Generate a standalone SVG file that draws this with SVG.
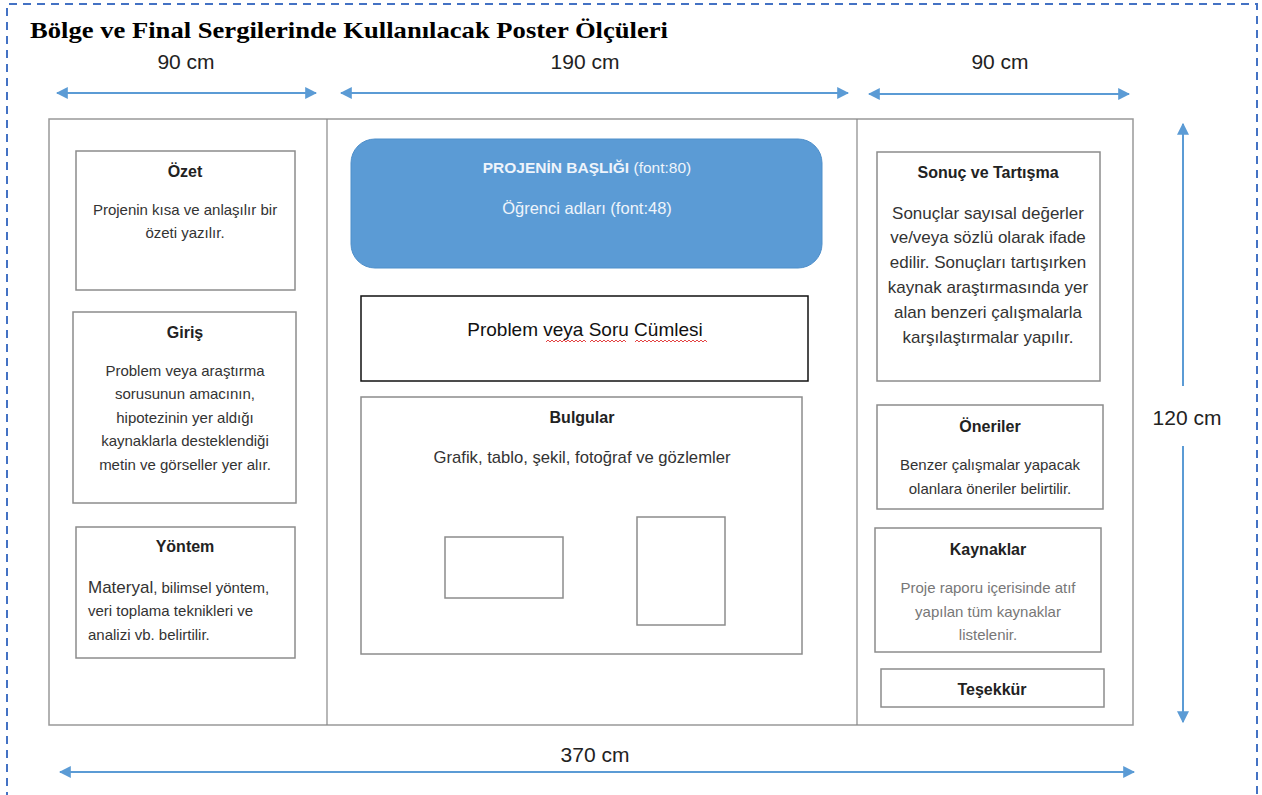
<svg xmlns="http://www.w3.org/2000/svg" width="1262" height="795" viewBox="0 0 1262 795">
<style>
.box{fill:#fff;stroke:#8c8c8c;stroke-width:1.5}
.ttl{font-family:"Liberation Sans",Arial,sans-serif;font-weight:bold;font-size:16px;fill:#222;text-anchor:middle}
.txt{font-family:"Liberation Sans",Arial,sans-serif;font-size:15px;fill:#333;text-anchor:middle}
.lft{text-anchor:start}
.dim{font-family:"Liberation Sans",Arial,sans-serif;font-size:21px;fill:#222;text-anchor:middle}
.arr{stroke:#5b9bd5;stroke-width:2;fill:none}
</style>
<defs>
<marker id="ah" viewBox="0 0 10 10" refX="9" refY="5" markerWidth="6" markerHeight="6" markerUnits="strokeWidth" orient="auto-start-reverse">
<path d="M0,0 L10,5 L0,10 z" fill="#5b9bd5"/>
</marker>
</defs>
<rect width="1262" height="795" fill="#fff"/>
<path d="M7,800 V4 H1257 V800" fill="none" stroke="#4472c4" stroke-width="2" stroke-dasharray="8,6"/>
<text x="30" y="38" font-family="Liberation Serif,'Times New Roman',serif" font-weight="bold" font-size="23" fill="#000" textLength="638" lengthAdjust="spacingAndGlyphs">Bölge ve Final Sergilerinde Kullanılacak Poster Ölçüleri</text>

<g id="poster">
<rect x="49" y="119" width="1084" height="606" fill="#fff" stroke="#999" stroke-width="1.5"/>
<line x1="327" y1="119" x2="327" y2="725" stroke="#888" stroke-width="1.2"/>
<line x1="857" y1="119" x2="857" y2="725" stroke="#888" stroke-width="1.2"/>
</g>

<g id="ozet">
<rect class="box" x="76" y="151" width="219" height="139"/>
<text class="ttl" x="185" y="177">Özet</text>
<text class="txt" x="185" y="215">Projenin kısa ve anlaşılır bir</text>
<text class="txt" x="185" y="238">özeti yazılır.</text>
</g>

<g id="giris">
<rect class="box" x="73" y="312" width="223" height="191"/>
<text class="ttl" x="185" y="338">Giriş</text>
<text class="txt" x="185" y="376">Problem veya araştırma</text>
<text class="txt" x="185" y="399">sorusunun amacının,</text>
<text class="txt" x="185" y="423">hipotezinin yer aldığı</text>
<text class="txt" x="185" y="446">kaynaklarla desteklendiği</text>
<text class="txt" x="185" y="470">metin ve görseller yer alır.</text>
</g>

<g id="yontem">
<rect class="box" x="76" y="527" width="219" height="131"/>
<text class="ttl" x="185" y="552">Yöntem</text>
<text class="txt lft" x="88" y="593"><tspan font-size="17">Materyal</tspan>, bilimsel yöntem,</text>
<text class="txt lft" x="88" y="616">veri toplama teknikleri ve</text>
<text class="txt lft" x="88" y="640">analizi vb. belirtilir.</text>
</g>

<g id="baslik">
<rect x="351" y="139" width="471" height="129" rx="24" fill="#5b9bd5" stroke="#4f8fca" stroke-width="1"/>
<text x="587" y="173" font-family="Liberation Sans,Arial,sans-serif" font-size="15.5" fill="#eef4fb" text-anchor="middle"><tspan font-weight="bold">PROJENİN BAŞLIĞI</tspan> (font:80)</text>
<text x="587" y="214" font-family="Liberation Sans,Arial,sans-serif" font-size="16.5" fill="#eef4fb" text-anchor="middle">Öğrenci adları (font:48)</text>
</g>

<g id="problem">
<rect x="361" y="296" width="447" height="85" fill="#fff" stroke="#111" stroke-width="1.5"/>
<text x="585" y="336" font-family="Liberation Sans,Arial,sans-serif" font-size="19" fill="#111" text-anchor="middle">Problem veya Soru Cümlesi</text>
<path d="M546,342 l2,-2 l2,2 l2,-2 l2,2 l2,-2 l2,2 l2,-2 l2,2 l2,-2 l2,2 l2,-2 l2,2 l2,-2 l2,2 l2,-2 l2,2 l2,-2 l2,2 l2,-2 l2,2 M590,342 l2,-2 l2,2 l2,-2 l2,2 l2,-2 l2,2 l2,-2 l2,2 l2,-2 l2,2 l2,-2 l2,2 l2,-2 l2,2 l2,-2 l2,2 l2,-2 l2,2 M635,342 l2,-2 l2,2 l2,-2 l2,2 l2,-2 l2,2 l2,-2 l2,2 l2,-2 l2,2 l2,-2 l2,2 l2,-2 l2,2 l2,-2 l2,2 l2,-2 l2,2 l2,-2 l2,2 l2,-2 l2,2 l2,-2 l2,2 l2,-2 l2,2 l2,-2 l2,2 l2,-2 l2,2 l2,-2 l2,2 l2,-2 l2,2 l2,-2 l2,2" fill="none" stroke="#e03030" stroke-width="0.9"/>
</g>

<g id="bulgular">
<rect class="box" x="361" y="397" width="441" height="257"/>
<text class="ttl" x="582" y="423">Bulgular</text>
<text class="txt" x="582" y="463" font-size="17" style="font-size:17px" textLength="297" lengthAdjust="spacingAndGlyphs">Grafik, tablo, şekil, fotoğraf ve gözlemler</text>
<rect class="box" x="445" y="537" width="118" height="61"/>
<rect class="box" x="637" y="517" width="88" height="108"/>
</g>

<g id="sonuc">
<rect class="box" x="877" y="152" width="223" height="229"/>
<text class="ttl" x="988" y="178">Sonuç ve Tartışma</text>
<g style="font-size:17px">
<text class="txt" x="988" y="219" style="font-size:17px">Sonuçlar sayısal değerler</text>
<text class="txt" x="988" y="243" style="font-size:17px">ve/veya sözlü olarak ifade</text>
<text class="txt" x="988" y="268" style="font-size:17px">edilir. Sonuçları tartışırken</text>
<text class="txt" x="988" y="293" style="font-size:17px">kaynak araştırmasında yer</text>
<text class="txt" x="988" y="318" style="font-size:17px">alan benzeri çalışmalarla</text>
<text class="txt" x="988" y="343" style="font-size:17px">karşılaştırmalar yapılır.</text>
</g>
</g>

<g id="oneriler">
<rect class="box" x="877" y="405" width="226" height="104"/>
<text class="ttl" x="990" y="432">Öneriler</text>
<text class="txt" x="990" y="470">Benzer çalışmalar yapacak</text>
<text class="txt" x="990" y="494">olanlara öneriler belirtilir.</text>
</g>

<g id="kaynaklar">
<rect class="box" x="875" y="528" width="226" height="124"/>
<text class="ttl" x="988" y="555">Kaynaklar</text>
<text class="txt" x="988" y="593" style="fill:#777">Proje raporu içerisinde atıf</text>
<text class="txt" x="988" y="617" style="fill:#777">yapılan tüm kaynaklar</text>
<text class="txt" x="988" y="640" style="fill:#777">listelenir.</text>
</g>

<g id="tesekkur">
<rect class="box" x="881" y="669" width="223" height="38"/>
<text class="ttl" x="992" y="695">Teşekkür</text>
</g>

<g id="connectors">
<line class="arr" x1="57" y1="93" x2="316" y2="93" marker-start="url(#ah)" marker-end="url(#ah)"/>
<line class="arr" x1="341" y1="93" x2="848" y2="93" marker-start="url(#ah)" marker-end="url(#ah)"/>
<line class="arr" x1="869" y1="94" x2="1129" y2="94" marker-start="url(#ah)" marker-end="url(#ah)"/>
<line class="arr" x1="1183" y1="124" x2="1183" y2="386" marker-start="url(#ah)"/>
<line class="arr" x1="1183" y1="446" x2="1183" y2="722" marker-end="url(#ah)"/>
<line class="arr" x1="60" y1="772" x2="1134" y2="772" marker-start="url(#ah)" marker-end="url(#ah)"/>
</g>
<text class="dim" x="186" y="69">90 cm</text>
<text class="dim" x="585" y="69">190 cm</text>
<text class="dim" x="1000" y="69">90 cm</text>
<text class="dim" x="1187" y="425">120 cm</text>
<text class="dim" x="595" y="762">370 cm</text>
</svg>
